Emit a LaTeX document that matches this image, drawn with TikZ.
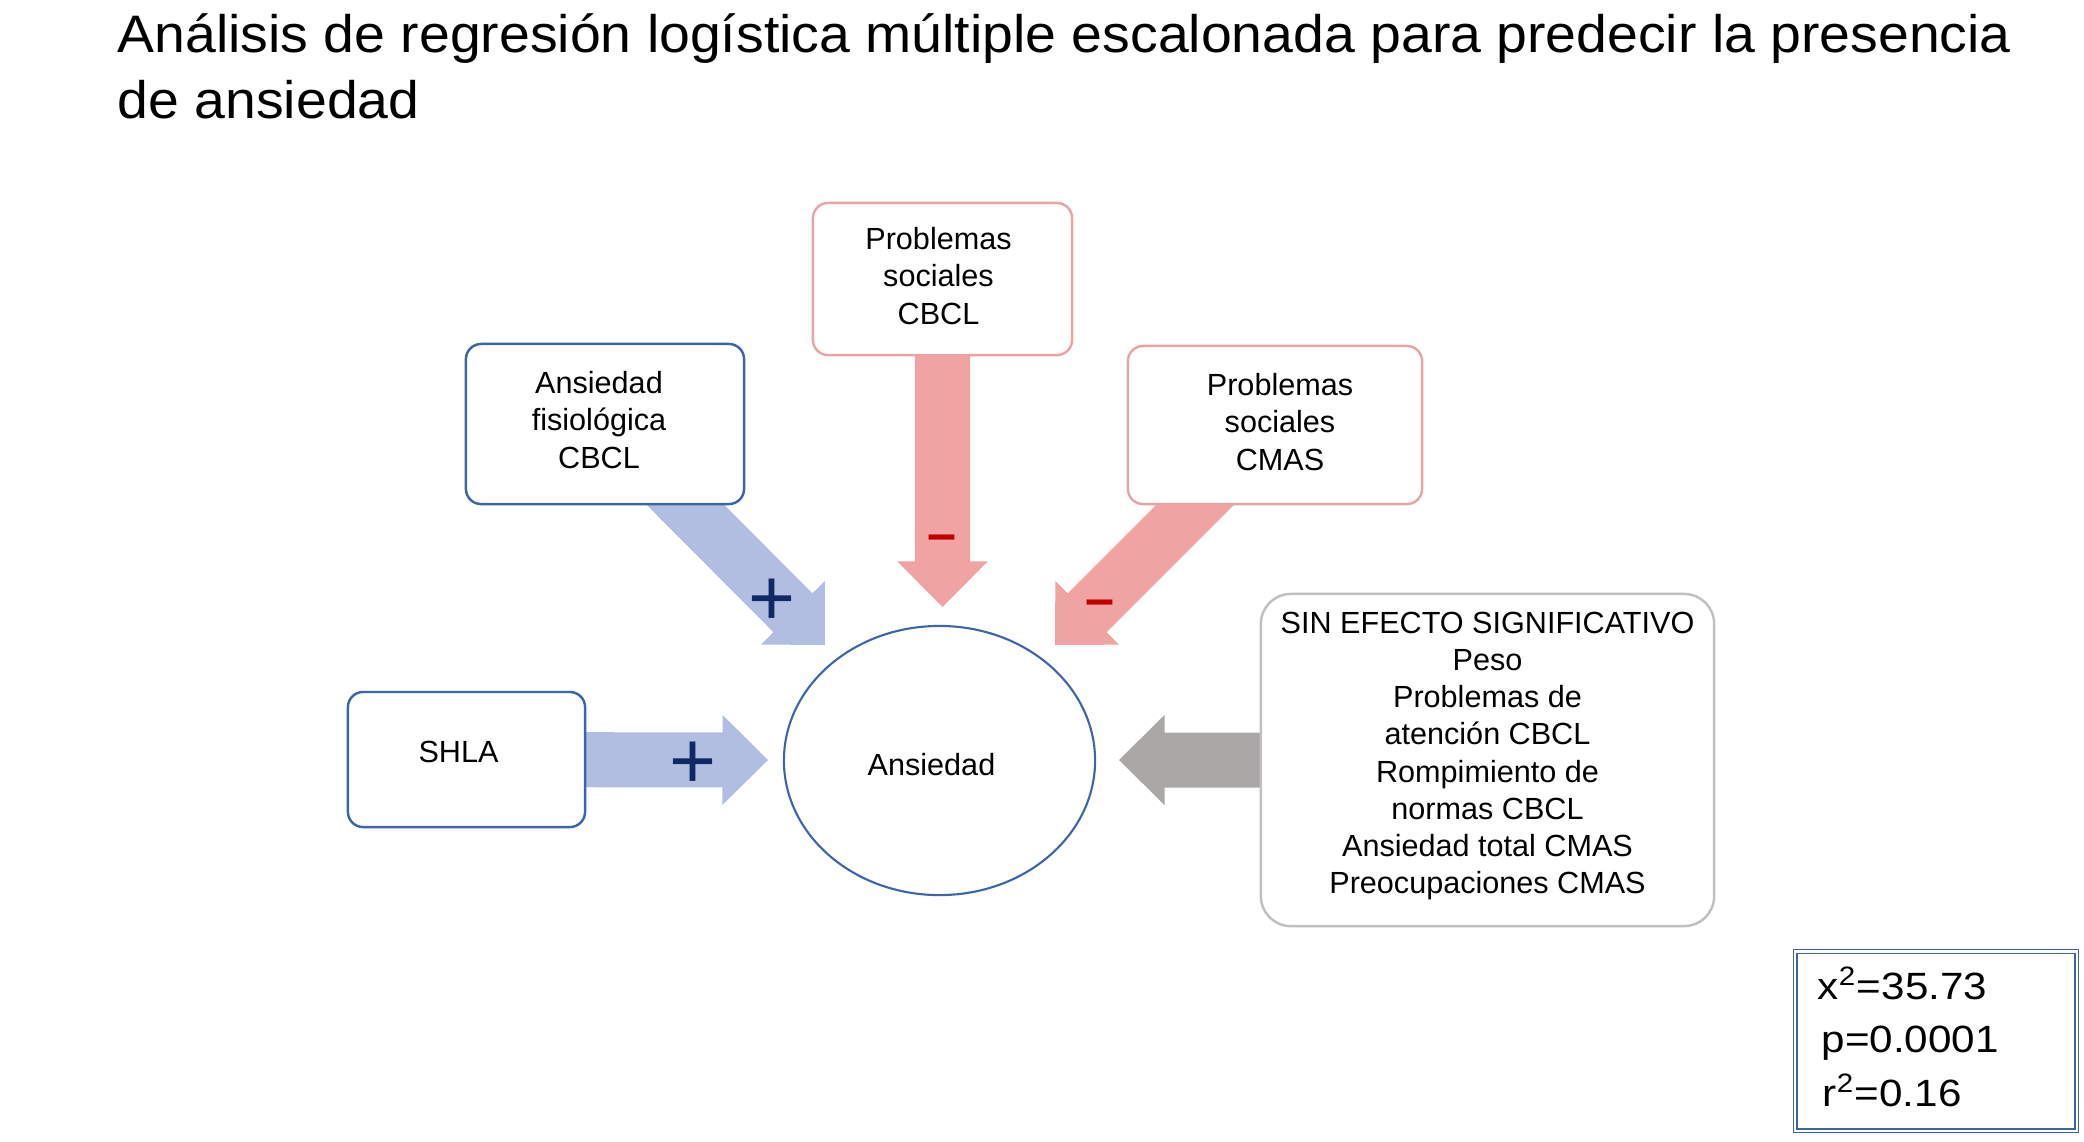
\documentclass[tikz,border=0pt]{standalone}
\usepackage{fontspec}
\setmainfont{Liberation Sans}
\newfontfamily\titlefam[FakeStretch=1.05]{Liberation Sans}
\newfontfamily\statfam[FakeStretch=1.11]{Liberation Sans}
\usetikzlibrary{calc,shapes.geometric}
\pgfdeclarelayer{bg}
\pgfsetlayers{bg,main}
\definecolor{boxblue}{RGB}{62,100,170}
\definecolor{boxred}{RGB}{232,165,165}
\definecolor{boxgray}{RGB}{192,192,192}
\definecolor{arrblue}{RGB}{178,190,225}
\definecolor{arrred}{RGB}{240,163,163}
\definecolor{arrgray}{RGB}{170,167,167}
\definecolor{plusblue}{RGB}{16,40,100}
\definecolor{minusred}{RGB}{192,0,0}
\newcommand\arrSW{0.275cm}
\newcommand\arrHW{0.45cm}
\newcommand\arrHL{0.455cm}
\newcommand\blockarrow[3]{%
  \fill[#1] ($(#2)!\arrSW!90:(#3)$)
    -- ($(#3)!\arrHL!(#2)!\arrSW!90:(#3)$)
    -- ($(#3)!\arrHL!(#2)!\arrHW!90:(#3)$)
    -- (#3)
    -- ($(#3)!\arrHL!(#2)!\arrHW!-90:(#3)$)
    -- ($(#3)!\arrHL!(#2)!\arrSW!-90:(#3)$)
    -- ($(#2)!\arrSW!-90:(#3)$) -- cycle;}
\newcommand\boxfont{\fontsize{8.7pt}{10.55pt}\selectfont}
\newcommand\titlefont{\titlefam\fontsize{15pt}{18.5pt}\selectfont}
\newcommand\statfont{\statfam\fontsize{10.8pt}{15.1pt}\selectfont}
\tikzset{
  varbox/.style={draw, line width=0.7pt, rounded corners=4.3pt, fill=white, inner sep=0pt},
  bluebox/.style={varbox, draw=boxblue},
  redbox/.style={varbox, draw=boxred},
  graybox/.style={varbox, draw=boxgray, rounded corners=8.5pt},
  boxtext/.style={align=center, font=\boxfont, inner sep=0pt},
  plussign/.style={font=\fontsize{22.9pt}{22.9pt}\selectfont, text=plusblue, inner sep=0pt, anchor=base},
  minussign/.style={font=\fontsize{14.8pt}{14.8pt}\selectfont\bfseries, text=minusred, inner sep=0pt, anchor=base},
}
\begin{document}
\begin{tikzpicture}[x=0.01cm, y=-0.01cm]
\useasboundingbox (0,0) rectangle (2084,1141);
\begin{pgfonlayer}{bg}
\fill[white] (0,0) rectangle (2084,1141);
\end{pgfonlayer}
% title
\node[anchor=base west, align=left, font=\titlefont, inner sep=0pt] (title) at (117,118)
  {Análisis de regresión logística múltiple escalonada para predecir la presencia\\de ansiedad};
% boxes
\node[bluebox, minimum width=2.78cm, minimum height=1.60cm] (afis) at (605,424) {};
\node[redbox, minimum width=2.59cm, minimum height=1.52cm] (psc) at (942.5,279) {};
\node[redbox, minimum width=2.94cm, minimum height=1.58cm] (psm) at (1275,425) {};
\node[bluebox, minimum width=2.37cm, minimum height=1.35cm] (shla) at (466.5,759.5) {};
\node[graybox, minimum width=4.53cm, minimum height=3.32cm] (sin) at (1487.5,760) {};
\node[ellipse, draw=boxblue, line width=0.6pt, fill=white, minimum width=3.11cm,
  minimum height=2.69cm, inner sep=0pt] (anx) at (939.5,760.5) {};
\node[draw=boxblue, line width=0.4pt, double=white, double distance=0.6pt,
  minimum width=2.81cm, minimum height=1.79cm, inner sep=0pt] (stats) at (1936,1041) {};
% texts
\node[boxtext] (afis-t) at ($(afis)+(-6,-4)$) {Ansiedad\\fisiológica\\CBCL};
\node[boxtext] (psc-t) at ($(psc)+(-4,-3)$) {Problemas\\sociales\\CBCL};
\node[boxtext] (psm-t) at ($(psm)+(5,-3)$) {Problemas\\sociales\\CMAS};
\node[boxtext] (shla-t) at ($(shla)+(-8,-8)$) {SHLA};
\node[boxtext] (anx-t) at ($(anx)+(-8,4)$) {Ansiedad};
\node[boxtext] (sin-t) at ($(sin)+(0,-4)$)
  {SIN EFECTO SIGNIFICATIVO\\Peso\\Problemas de\\atención CBCL\\Rompimiento de\\normas CBCL\\Ansiedad total CMAS\\Preocupaciones CMAS};
\node[anchor=base west, align=left, font=\statfont, inner sep=0pt] (stats-t) at (1817,1106)
  {x\textsuperscript{2}=35.73\\\hspace{0.04cm}p=0.0001\\\hspace{0.05cm}r\textsuperscript{2}=0.16};
% arrow tips
\coordinate (tshla) at (768,760);
\coordinate (tsin) at (1119,760);
\coordinate (tpsc) at (942.5,607);
\coordinate (tafis) at (825,645);
\coordinate (tpsm) at (1055,645);
\begin{pgfonlayer}{bg}
\blockarrow{arrblue}{shla.center}{tshla}
\blockarrow{arrgray}{sin.center}{tsin}
\blockarrow{arrred}{psc.center}{tpsc}
\blockarrow{arrblue}{afis.center}{tafis}
\blockarrow{arrred}{psm.center}{tpsm}
\end{pgfonlayer}
% signs
\node[plussign] (p1) at (772,625) {+};
\node[plussign] (p2) at (693,788) {+};
\node[minussign] (m1) at (941.5,551.5) {–};
\node[minussign] (m2) at (1099.5,616.5) {–};
\end{tikzpicture}
\end{document}
